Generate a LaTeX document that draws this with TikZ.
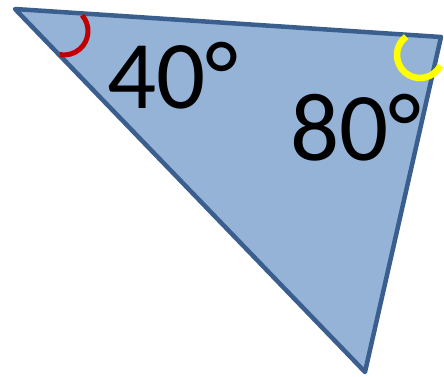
\documentclass[tikz,border=0pt]{standalone}
\usepackage{fontspec}
\setmainfont{Carlito}
\definecolor{trifill}{HTML}{95B3D7}
\definecolor{triline}{HTML}{3A5F8E}
\definecolor{arcred}{HTML}{C00000}
\definecolor{arcyel}{HTML}{FFFF00}
\begin{document}
\begin{tikzpicture}[x=1pt,y=-1pt,
  angletext/.style={inner sep=0pt,anchor=base,font=\fontsize{97}{105}\selectfont}]
\useasboundingbox (0,0) rectangle (444,377);
\coordinate (A) at (15,9);
\coordinate (B) at (441,37);
\coordinate (C) at (365,372);
\draw[triline,fill=trifill,line width=4.5pt,line join=round] (A) -- (B) -- (C) -- cycle;
\draw[arcred,line width=5pt] (64,31) ++(-41:24) arc[start angle=-41,end angle=100,radius=24];
\draw[arcyel,line width=6.5pt] (420,55) ++(233:23) arc[start angle=233,end angle=27,radius=23];
\node[angletext] (t40) at (173,109) {40°};
\node[angletext] (t80) at (356,160) {80°};
\end{tikzpicture}
\end{document}
